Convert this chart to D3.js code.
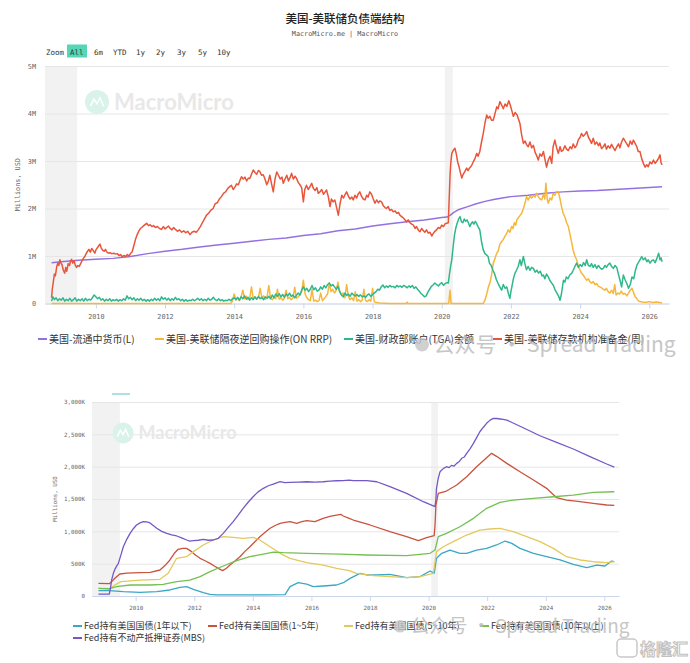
<!DOCTYPE html>
<html>
<head>
<meta charset="utf-8">
<script src="https://cdn.jsdelivr.net/npm/d3@7"></script>
<style>
  body { margin: 0; background: #fff; }
  svg { display: block; font-family: "Noto Sans CJK SC", "Noto Sans", sans-serif; }
  .axis text, .mono { font-family: "DejaVu Sans Mono", "Liberation Mono", monospace; }
</style>
</head>
<body>
<div id="chart"></div>
<script>
// ---- shared ----
const xTicks = [2010, 2012, 2014, 2016, 2018, 2020, 2022, 2024, 2026];
const recessions = [[2007.92, 2009.46], [2020.09, 2020.32]];
const rangeButtons = ["Zoom", "All", "6m", "YTD", "1y", "2y", "3y", "5y", "10y"];

// ---- top chart: Fed liabilities (millions of millions USD) ----
const topYTicks = [0, 1, 2, 3, 4, 5];
const topLabels = ["美国-流通中货币(L)", "美国-美联储隔夜逆回购操作(ON RRP)", "美国-财政部账户(TGA)余额", "美国-美联储存款机构准备金(周)"];

const currency = [[2008.72,0.86],[2009.0,0.88],[2009.5,0.91],[2010.0,0.93],[2010.5,0.95],[2011.0,0.99],[2011.5,1.05],[2012.0,1.10],[2012.5,1.14],[2013.0,1.19],[2013.5,1.23],[2014.0,1.27],[2014.5,1.31],[2015.0,1.35],[2015.5,1.38],[2016.0,1.43],[2016.5,1.47],[2017.0,1.53],[2017.5,1.57],[2018.0,1.63],[2018.5,1.68],[2019.0,1.72],[2019.5,1.76],[2020.0,1.81],[2020.15,1.82],[2020.25,1.86],[2020.35,1.92],[2020.5,1.98],[2020.75,2.04],[2021.0,2.10],[2021.25,2.15],[2021.5,2.19],[2021.75,2.22],[2022.0,2.25],[2022.5,2.28],[2023.0,2.32],[2023.5,2.35],[2024.0,2.37],[2024.5,2.38],[2025.0,2.40],[2025.5,2.42],[2026.0,2.44],[2026.37,2.46]];

const onRrp = [[2008.72,0],[2013.9,0],[2013.95,0.05],[2014.0,0.20],[2014.05,0.08],[2014.1,0.12],[2014.15,0.06],[2014.2,0.14],[2014.25,0.28],[2014.3,0.10],[2014.35,0.15],[2014.4,0.08],[2014.45,0.12],[2014.5,0.35],[2014.55,0.10],[2014.6,0.14],[2014.65,0.09],[2014.7,0.13],[2014.75,0.32],[2014.8,0.11],[2014.85,0.16],[2014.9,0.09],[2014.95,0.14],[2015.0,0.38],[2015.05,0.12],[2015.1,0.08],[2015.15,0.13],[2015.2,0.10],[2015.25,0.30],[2015.3,0.09],[2015.35,0.12],[2015.4,0.07],[2015.45,0.11],[2015.5,0.28],[2015.55,0.10],[2015.6,0.13],[2015.65,0.08],[2015.7,0.12],[2015.75,0.34],[2015.8,0.11],[2015.85,0.14],[2015.9,0.18],[2015.95,0.25],[2016.0,0.49],[2016.05,0.20],[2016.1,0.12],[2016.15,0.08],[2016.2,0.06],[2016.25,0.30],[2016.3,0.05],[2016.35,0.07],[2016.4,0.04],[2016.45,0.06],[2016.5,0.22],[2016.55,0.06],[2016.6,0.10],[2016.65,0.15],[2016.7,0.20],[2016.75,0.43],[2016.8,0.25],[2016.85,0.30],[2016.9,0.22],[2016.95,0.28],[2017.0,0.45],[2017.05,0.25],[2017.1,0.18],[2017.15,0.22],[2017.2,0.12],[2017.25,0.40],[2017.3,0.15],[2017.35,0.08],[2017.4,0.12],[2017.45,0.06],[2017.5,0.25],[2017.55,0.05],[2017.6,0.08],[2017.65,0.04],[2017.7,0.07],[2017.75,0.30],[2017.8,0.06],[2017.85,0.04],[2017.9,0.08],[2017.95,0.05],[2018.0,0.32],[2018.05,0.04],[2018.1,0.02],[2018.2,0.01],[2018.5,0.0],[2018.98,0.0],[2019.0,0.03],[2019.02,0.0],[2020.2,0.0],[2020.24,0.28],[2020.27,0.0],[2021.2,0.0],[2021.25,0.07],[2021.3,0.20],[2021.35,0.35],[2021.39,0.43],[2021.44,0.60],[2021.49,0.85],[2021.54,0.95],[2021.59,1.06],[2021.63,1.10],[2021.68,1.25],[2021.73,1.30],[2021.78,1.35],[2021.83,1.42],[2021.88,1.48],[2021.92,1.55],[2021.97,1.50],[2022.02,1.62],[2022.06,1.58],[2022.1,1.70],[2022.14,1.65],[2022.17,1.76],[2022.21,1.80],[2022.26,1.85],[2022.31,1.90],[2022.36,2.00],[2022.41,2.12],[2022.45,2.25],[2022.5,2.18],[2022.55,2.26],[2022.6,2.22],[2022.65,2.28],[2022.7,2.24],[2022.74,2.32],[2022.79,2.25],[2022.84,2.20],[2022.89,2.18],[2022.94,2.30],[2022.98,2.20],[2023.01,2.53],[2023.05,2.20],[2023.08,2.11],[2023.13,2.22],[2023.18,2.18],[2023.22,2.32],[2023.27,2.28],[2023.32,2.36],[2023.37,2.35],[2023.42,2.20],[2023.46,2.05],[2023.51,1.90],[2023.56,1.82],[2023.61,1.70],[2023.66,1.62],[2023.71,1.45],[2023.76,1.27],[2023.8,1.12],[2023.85,1.00],[2023.9,0.92],[2023.95,0.78],[2024.0,0.70],[2024.04,0.64],[2024.09,0.60],[2024.14,0.54],[2024.19,0.49],[2024.24,0.52],[2024.29,0.45],[2024.33,0.43],[2024.38,0.46],[2024.43,0.40],[2024.48,0.42],[2024.53,0.36],[2024.57,0.35],[2024.62,0.33],[2024.67,0.30],[2024.72,0.28],[2024.76,0.32],[2024.81,0.25],[2024.86,0.22],[2024.91,0.28],[2024.96,0.21],[2025.0,0.40],[2025.04,0.18],[2025.09,0.22],[2025.14,0.20],[2025.19,0.26],[2025.24,0.20],[2025.3,0.21],[2025.35,0.16],[2025.4,0.22],[2025.45,0.28],[2025.5,0.32],[2025.54,0.24],[2025.59,0.15],[2025.63,0.11],[2025.68,0.06],[2025.73,0.04],[2025.8,0.03],[2025.9,0.02],[2026.0,0.04],[2026.1,0.02],[2026.2,0.03],[2026.3,0.02],[2026.37,0.01]];

const tga = [[2008.72,0.05],[2008.76,0.14],[2008.8,0.08],[2008.85,0.12],[2008.9,0.06],[2008.95,0.10],[2009.0,0.07],[2009.05,0.12],[2009.1,0.05],[2009.15,0.09],[2009.2,0.06],[2009.25,0.11],[2009.3,0.05],[2009.35,0.08],[2009.4,0.12],[2009.45,0.05],[2009.5,0.09],[2009.55,0.06],[2009.6,0.10],[2009.65,0.05],[2009.7,0.11],[2009.75,0.06],[2009.8,0.09],[2009.85,0.07],[2009.9,0.12],[2009.95,0.18],[2010.0,0.14],[2010.05,0.10],[2010.1,0.13],[2010.15,0.07],[2010.2,0.10],[2010.25,0.05],[2010.3,0.09],[2010.35,0.06],[2010.4,0.10],[2010.45,0.05],[2010.5,0.08],[2010.55,0.06],[2010.6,0.09],[2010.65,0.05],[2010.7,0.08],[2010.75,0.06],[2010.8,0.10],[2010.85,0.07],[2010.9,0.16],[2010.95,0.10],[2011.0,0.13],[2011.05,0.08],[2011.1,0.12],[2011.15,0.06],[2011.2,0.10],[2011.25,0.07],[2011.3,0.11],[2011.35,0.06],[2011.4,0.09],[2011.45,0.05],[2011.5,0.08],[2011.55,0.05],[2011.6,0.09],[2011.65,0.06],[2011.7,0.11],[2011.75,0.07],[2011.8,0.10],[2011.85,0.06],[2011.9,0.14],[2011.95,0.09],[2012.0,0.12],[2012.05,0.07],[2012.1,0.11],[2012.15,0.06],[2012.2,0.10],[2012.25,0.07],[2012.3,0.13],[2012.35,0.08],[2012.4,0.10],[2012.45,0.06],[2012.5,0.09],[2012.55,0.05],[2012.6,0.08],[2012.65,0.05],[2012.7,0.07],[2012.75,0.06],[2012.8,0.09],[2012.85,0.06],[2012.9,0.08],[2012.95,0.11],[2013.0,0.07],[2013.05,0.10],[2013.1,0.06],[2013.15,0.09],[2013.2,0.06],[2013.25,0.11],[2013.3,0.07],[2013.35,0.09],[2013.4,0.13],[2013.45,0.08],[2013.5,0.06],[2013.55,0.10],[2013.6,0.06],[2013.65,0.08],[2013.7,0.05],[2013.75,0.07],[2013.8,0.06],[2013.85,0.09],[2013.9,0.06],[2013.95,0.10],[2014.0,0.12],[2014.05,0.08],[2014.1,0.13],[2014.15,0.07],[2014.2,0.14],[2014.25,0.10],[2014.3,0.16],[2014.35,0.09],[2014.4,0.13],[2014.45,0.07],[2014.5,0.12],[2014.55,0.08],[2014.6,0.14],[2014.65,0.09],[2014.7,0.15],[2014.75,0.10],[2014.8,0.13],[2014.85,0.08],[2014.9,0.14],[2014.95,0.11],[2015.0,0.15],[2015.05,0.10],[2015.1,0.18],[2015.15,0.12],[2015.2,0.20],[2015.25,0.15],[2015.3,0.21],[2015.35,0.14],[2015.4,0.19],[2015.45,0.13],[2015.5,0.20],[2015.55,0.16],[2015.6,0.22],[2015.65,0.15],[2015.7,0.18],[2015.75,0.12],[2015.8,0.17],[2015.85,0.22],[2015.9,0.18],[2015.95,0.28],[2016.0,0.35],[2016.05,0.28],[2016.1,0.32],[2016.15,0.25],[2016.2,0.30],[2016.25,0.38],[2016.3,0.29],[2016.35,0.33],[2016.4,0.26],[2016.45,0.28],[2016.5,0.35],[2016.55,0.30],[2016.6,0.38],[2016.65,0.33],[2016.7,0.40],[2016.75,0.43],[2016.8,0.37],[2016.85,0.40],[2016.9,0.35],[2016.95,0.30],[2017.0,0.36],[2017.05,0.25],[2017.1,0.18],[2017.15,0.14],[2017.2,0.22],[2017.25,0.17],[2017.3,0.20],[2017.35,0.15],[2017.4,0.22],[2017.45,0.18],[2017.5,0.16],[2017.55,0.19],[2017.6,0.15],[2017.65,0.18],[2017.7,0.14],[2017.75,0.16],[2017.8,0.13],[2017.85,0.18],[2017.9,0.20],[2017.95,0.15],[2018.0,0.19],[2018.05,0.22],[2018.1,0.25],[2018.15,0.30],[2018.2,0.28],[2018.25,0.35],[2018.3,0.39],[2018.35,0.33],[2018.4,0.37],[2018.45,0.34],[2018.5,0.38],[2018.55,0.35],[2018.6,0.36],[2018.65,0.33],[2018.7,0.38],[2018.75,0.35],[2018.8,0.37],[2018.85,0.34],[2018.9,0.38],[2018.95,0.36],[2019.0,0.33],[2019.05,0.37],[2019.1,0.34],[2019.15,0.38],[2019.2,0.32],[2019.25,0.35],[2019.3,0.30],[2019.35,0.26],[2019.4,0.21],[2019.45,0.18],[2019.5,0.14],[2019.55,0.16],[2019.6,0.24],[2019.65,0.30],[2019.7,0.36],[2019.75,0.39],[2019.8,0.43],[2019.85,0.40],[2019.9,0.37],[2019.95,0.41],[2020.0,0.44],[2020.05,0.38],[2020.1,0.42],[2020.15,0.44],[2020.19,0.43],[2020.22,0.60],[2020.26,0.80],[2020.29,0.92],[2020.33,1.20],[2020.37,1.45],[2020.41,1.60],[2020.45,1.70],[2020.49,1.78],[2020.53,1.83],[2020.57,1.72],[2020.61,1.70],[2020.65,1.78],[2020.69,1.73],[2020.73,1.76],[2020.77,1.70],[2020.81,1.62],[2020.85,1.68],[2020.89,1.72],[2020.93,1.67],[2020.97,1.73],[2021.01,1.68],[2021.05,1.62],[2021.1,1.55],[2021.15,1.30],[2021.2,1.13],[2021.25,1.05],[2021.3,1.02],[2021.34,0.99],[2021.38,0.85],[2021.43,0.80],[2021.48,0.70],[2021.53,0.62],[2021.58,0.50],[2021.63,0.42],[2021.68,0.35],[2021.73,0.28],[2021.78,0.40],[2021.83,0.32],[2021.88,0.35],[2021.93,0.20],[2021.97,0.11],[2022.0,0.25],[2022.04,0.40],[2022.08,0.55],[2022.12,0.64],[2022.16,0.70],[2022.21,0.78],[2022.26,0.92],[2022.3,0.80],[2022.36,0.99],[2022.4,0.85],[2022.45,0.71],[2022.5,0.78],[2022.55,0.70],[2022.6,0.76],[2022.65,0.74],[2022.7,0.66],[2022.75,0.70],[2022.8,0.64],[2022.85,0.68],[2022.9,0.58],[2022.94,0.60],[2022.98,0.52],[2023.03,0.62],[2023.08,0.56],[2023.13,0.48],[2023.18,0.43],[2023.23,0.38],[2023.28,0.28],[2023.33,0.22],[2023.38,0.15],[2023.42,0.07],[2023.46,0.20],[2023.5,0.40],[2023.52,0.49],[2023.56,0.45],[2023.6,0.56],[2023.65,0.52],[2023.7,0.60],[2023.76,0.64],[2023.8,0.70],[2023.85,0.78],[2023.9,0.85],[2023.95,0.76],[2024.0,0.82],[2024.05,0.78],[2024.1,0.86],[2024.15,0.80],[2024.19,0.92],[2024.24,0.80],[2024.29,0.78],[2024.33,0.84],[2024.38,0.76],[2024.43,0.82],[2024.48,0.74],[2024.53,0.80],[2024.57,0.76],[2024.62,0.72],[2024.67,0.74],[2024.72,0.80],[2024.76,0.76],[2024.81,0.82],[2024.86,0.85],[2024.91,0.78],[2024.96,0.74],[2025.01,0.80],[2025.06,0.76],[2025.1,0.64],[2025.15,0.50],[2025.2,0.35],[2025.25,0.60],[2025.3,0.50],[2025.35,0.42],[2025.4,0.32],[2025.45,0.40],[2025.5,0.56],[2025.55,0.52],[2025.6,0.70],[2025.65,0.82],[2025.7,0.88],[2025.73,0.92],[2025.78,0.99],[2025.83,0.92],[2025.88,0.96],[2025.93,0.88],[2025.97,0.92],[2026.02,0.85],[2026.07,0.90],[2026.12,0.92],[2026.17,0.86],[2026.22,0.95],[2026.27,1.06],[2026.31,0.92],[2026.34,0.96],[2026.37,0.88]];

const reserves = [[2008.72,0.12],[2008.74,0.30],[2008.77,0.45],[2008.8,0.62],[2008.83,0.58],[2008.87,0.78],[2008.9,0.85],[2008.93,0.80],[2008.96,0.92],[2008.99,0.85],[2009.02,0.82],[2009.06,0.70],[2009.1,0.64],[2009.13,0.76],[2009.16,0.68],[2009.2,0.84],[2009.24,0.80],[2009.27,0.90],[2009.3,0.93],[2009.33,0.85],[2009.37,0.90],[2009.4,0.82],[2009.44,0.76],[2009.48,0.80],[2009.52,0.78],[2009.56,0.84],[2009.6,0.90],[2009.64,0.95],[2009.68,0.99],[2009.72,1.05],[2009.76,1.10],[2009.8,1.14],[2009.84,1.08],[2009.88,1.16],[2009.92,1.12],[2009.97,1.06],[2010.01,1.14],[2010.05,1.18],[2010.09,1.22],[2010.12,1.25],[2010.16,1.16],[2010.2,1.12],[2010.24,1.10],[2010.28,1.14],[2010.31,1.09],[2010.36,1.06],[2010.41,1.07],[2010.46,1.05],[2010.52,1.06],[2010.57,1.04],[2010.62,1.05],[2010.67,1.01],[2010.72,1.03],[2010.76,0.98],[2010.81,1.01],[2010.86,0.99],[2010.91,1.03],[2010.96,1.00],[2011.01,1.06],[2011.05,1.09],[2011.1,1.22],[2011.15,1.36],[2011.19,1.44],[2011.24,1.52],[2011.29,1.58],[2011.33,1.60],[2011.37,1.63],[2011.42,1.66],[2011.47,1.69],[2011.52,1.64],[2011.57,1.66],[2011.62,1.62],[2011.67,1.64],[2011.72,1.60],[2011.78,1.62],[2011.84,1.58],[2011.9,1.56],[2011.95,1.62],[2012.0,1.57],[2012.05,1.60],[2012.1,1.63],[2012.15,1.58],[2012.2,1.55],[2012.25,1.60],[2012.3,1.56],[2012.36,1.52],[2012.42,1.55],[2012.48,1.50],[2012.54,1.53],[2012.6,1.49],[2012.66,1.52],[2012.72,1.45],[2012.78,1.50],[2012.84,1.52],[2012.9,1.50],[2012.96,1.55],[2013.02,1.62],[2013.08,1.70],[2013.14,1.78],[2013.2,1.86],[2013.26,1.90],[2013.32,1.96],[2013.39,2.00],[2013.45,2.10],[2013.51,2.12],[2013.57,2.20],[2013.63,2.25],[2013.69,2.32],[2013.75,2.35],[2013.81,2.42],[2013.87,2.46],[2013.92,2.49],[2013.97,2.40],[2014.02,2.45],[2014.07,2.52],[2014.12,2.50],[2014.17,2.60],[2014.21,2.67],[2014.26,2.62],[2014.31,2.66],[2014.36,2.58],[2014.41,2.64],[2014.45,2.63],[2014.5,2.72],[2014.55,2.81],[2014.6,2.76],[2014.65,2.72],[2014.7,2.80],[2014.74,2.78],[2014.79,2.70],[2014.84,2.71],[2014.89,2.62],[2014.94,2.50],[2014.98,2.56],[2015.03,2.70],[2015.08,2.52],[2015.13,2.35],[2015.18,2.62],[2015.23,2.77],[2015.28,2.70],[2015.33,2.62],[2015.38,2.66],[2015.42,2.53],[2015.47,2.62],[2015.52,2.70],[2015.57,2.58],[2015.62,2.66],[2015.66,2.74],[2015.71,2.62],[2015.76,2.68],[2015.8,2.64],[2015.85,2.55],[2015.9,2.50],[2015.95,2.44],[2016.0,2.14],[2016.04,2.40],[2016.09,2.49],[2016.14,2.40],[2016.19,2.46],[2016.24,2.53],[2016.29,2.42],[2016.34,2.38],[2016.39,2.44],[2016.43,2.32],[2016.48,2.35],[2016.53,2.40],[2016.58,2.30],[2016.62,2.34],[2016.67,2.39],[2016.72,2.25],[2016.77,2.04],[2016.81,2.20],[2016.86,2.14],[2016.91,2.18],[2016.96,2.02],[2017.01,1.86],[2017.06,2.10],[2017.11,2.28],[2017.16,2.22],[2017.21,2.30],[2017.25,2.35],[2017.3,2.26],[2017.35,2.20],[2017.4,2.24],[2017.44,2.18],[2017.49,2.28],[2017.54,2.22],[2017.58,2.30],[2017.63,2.35],[2017.68,2.26],[2017.73,2.20],[2017.78,2.18],[2017.83,2.28],[2017.87,2.24],[2017.92,2.35],[2017.97,2.30],[2018.02,2.20],[2018.07,2.11],[2018.12,2.18],[2018.17,2.12],[2018.21,2.16],[2018.26,2.14],[2018.31,2.06],[2018.36,2.02],[2018.4,2.00],[2018.45,2.04],[2018.5,1.96],[2018.55,1.98],[2018.6,1.93],[2018.65,1.95],[2018.7,1.90],[2018.75,1.92],[2018.79,1.86],[2018.84,1.83],[2018.89,1.80],[2018.94,1.76],[2018.98,1.72],[2019.03,1.76],[2019.08,1.70],[2019.13,1.67],[2019.18,1.65],[2019.23,1.58],[2019.27,1.62],[2019.32,1.55],[2019.37,1.51],[2019.42,1.58],[2019.46,1.54],[2019.51,1.50],[2019.56,1.55],[2019.61,1.48],[2019.66,1.50],[2019.71,1.42],[2019.75,1.47],[2019.8,1.52],[2019.85,1.55],[2019.9,1.60],[2019.95,1.58],[2020.0,1.65],[2020.05,1.62],[2020.1,1.68],[2020.14,1.69],[2020.19,1.70],[2020.21,2.10],[2020.24,2.70],[2020.26,2.95],[2020.29,3.16],[2020.33,3.22],[2020.38,3.27],[2020.42,3.15],[2020.46,2.98],[2020.5,2.88],[2020.54,2.75],[2020.58,2.64],[2020.62,2.72],[2020.67,2.78],[2020.72,2.85],[2020.76,2.80],[2020.81,2.86],[2020.86,2.90],[2020.91,2.98],[2020.96,3.05],[2021.01,3.16],[2021.05,3.10],[2021.1,3.20],[2021.15,3.40],[2021.2,3.58],[2021.25,3.80],[2021.3,3.97],[2021.34,3.90],[2021.39,3.94],[2021.44,3.86],[2021.49,3.86],[2021.54,4.00],[2021.59,4.14],[2021.63,4.10],[2021.68,4.25],[2021.73,4.18],[2021.78,4.10],[2021.83,4.20],[2021.88,4.15],[2021.94,4.27],[2021.98,4.18],[2022.03,4.05],[2022.07,3.94],[2022.12,4.02],[2022.18,3.97],[2022.22,3.88],[2022.26,3.79],[2022.31,3.55],[2022.36,3.37],[2022.41,3.42],[2022.45,3.35],[2022.5,3.30],[2022.55,3.40],[2022.6,3.28],[2022.65,3.33],[2022.7,3.18],[2022.74,3.12],[2022.79,3.02],[2022.84,3.15],[2022.89,3.10],[2022.94,3.20],[2022.98,3.05],[2023.03,2.87],[2023.08,3.02],[2023.13,3.10],[2023.18,2.95],[2023.22,3.30],[2023.27,3.44],[2023.32,3.28],[2023.37,3.16],[2023.42,3.30],[2023.46,3.20],[2023.51,3.23],[2023.56,3.32],[2023.61,3.25],[2023.66,3.22],[2023.71,3.30],[2023.76,3.26],[2023.8,3.36],[2023.85,3.28],[2023.9,3.33],[2023.95,3.45],[2024.0,3.50],[2024.04,3.58],[2024.09,3.52],[2024.14,3.56],[2024.19,3.62],[2024.24,3.50],[2024.28,3.45],[2024.33,3.37],[2024.38,3.48],[2024.43,3.35],[2024.48,3.40],[2024.53,3.32],[2024.57,3.38],[2024.62,3.26],[2024.67,3.30],[2024.72,3.36],[2024.76,3.25],[2024.81,3.32],[2024.86,3.27],[2024.91,3.35],[2024.96,3.28],[2025.01,3.22],[2025.06,3.30],[2025.11,3.36],[2025.15,3.28],[2025.2,3.40],[2025.25,3.48],[2025.3,3.42],[2025.35,3.36],[2025.4,3.30],[2025.45,3.42],[2025.5,3.35],[2025.54,3.44],[2025.59,3.37],[2025.64,3.30],[2025.68,3.20],[2025.73,3.20],[2025.78,3.05],[2025.83,2.95],[2025.88,2.87],[2025.93,2.92],[2025.97,2.88],[2026.02,2.98],[2026.07,2.94],[2026.12,3.02],[2026.17,2.95],[2026.22,3.00],[2026.27,3.06],[2026.31,3.13],[2026.34,2.96],[2026.37,2.92]];

// ---- bottom chart: Fed holdings (thousands of millions USD) ----
const bottomYTicks = [0, 500, 1000, 1500, 2000, 2500, 3000];
const bottomLabels = ["Fed持有美国国债(1年以下)", "Fed持有美国国债(1~5年)", "Fed持有美国国债(5~10年)", "Fed持有美国国债(10年以上)", "Fed持有不动产抵押证券(MBS)"];

const bills = [[2008.73,82],[2009.1,82],[2009.58,67],[2010.15,57],[2010.72,67],[2011.17,93],[2011.51,134],[2011.74,144],[2011.97,103],[2012.31,52],[2012.54,26],[2012.76,16],[2013.5,16],[2014.5,16],[2015.1,20],[2015.27,144],[2015.55,206],[2015.84,185],[2016.06,144],[2016.4,155],[2016.86,170],[2017.09,206],[2017.32,273],[2017.66,351],[2017.89,325],[2018.23,325],[2018.68,335],[2019.25,283],[2019.71,300],[2020.05,387],[2020.19,351],[2020.27,583],[2020.45,660],[2020.73,711],[2021.07,660],[2021.3,660],[2021.64,711],[2021.98,737],[2022.32,789],[2022.61,850],[2022.84,814],[2023.12,737],[2023.58,660],[2024.03,608],[2024.49,557],[2024.94,490],[2025.4,438],[2025.74,479],[2026.02,464],[2026.25,541],[2026.34,530]];

const notes1to5 = [[2008.73,196],[2009.1,191],[2009.2,230],[2009.28,270],[2009.46,340],[2009.7,355],[2010.15,361],[2010.5,365],[2010.83,402],[2011.0,470],[2011.17,557],[2011.32,660],[2011.45,722],[2011.6,738],[2011.74,737],[2011.91,686],[2012.05,630],[2012.2,583],[2012.37,545],[2012.54,505],[2012.7,460],[2012.82,428],[2012.97,392],[2013.1,430],[2013.22,479],[2013.4,545],[2013.56,608],[2013.73,690],[2013.9,762],[2014.07,840],[2014.24,917],[2014.42,985],[2014.59,1047],[2014.76,1090],[2014.93,1124],[2015.1,1140],[2015.27,1149],[2015.5,1124],[2015.67,1150],[2015.84,1164],[2016.12,1149],[2016.4,1201],[2016.63,1230],[2016.86,1252],[2017.0,1263],[2017.09,1237],[2017.29,1201],[2017.43,1175],[2018.0,1098],[2018.68,994],[2019.25,917],[2019.65,855],[2019.93,901],[2020.19,932],[2020.22,1100],[2020.25,1407],[2020.33,1588],[2020.61,1623],[2020.96,1716],[2021.3,1844],[2021.64,1999],[2021.98,2138],[2022.15,2206],[2022.32,2160],[2022.67,2051],[2023.12,1922],[2023.58,1793],[2024.03,1665],[2024.37,1520],[2024.71,1484],[2025.17,1458],[2025.62,1433],[2026.08,1407],[2026.34,1401]];

const notes5to10 = [[2008.73,119],[2009.1,104],[2009.29,170],[2009.5,222],[2010.15,247],[2010.83,258],[2011.11,351],[2011.4,583],[2011.74,608],[2011.97,686],[2012.31,789],[2012.65,866],[2012.99,917],[2013.33,907],[2013.67,892],[2014.01,907],[2014.24,866],[2014.59,762],[2014.93,660],[2015.27,583],[2015.84,515],[2016.4,479],[2016.86,428],[2017.29,392],[2017.54,351],[2018.11,314],[2018.68,300],[2019.25,283],[2019.71,300],[2020.16,351],[2020.27,686],[2020.5,762],[2020.84,840],[2021.3,943],[2021.75,1020],[2022.1,1036],[2022.44,1047],[2022.89,995],[2023.35,917],[2023.8,840],[2024.26,737],[2024.71,608],[2025.17,557],[2025.62,530],[2026.08,515],[2026.34,530]];

const bonds10plus = [[2008.73,119],[2009.1,114],[2009.35,144],[2009.81,170],[2010.49,170],[2010.94,180],[2011.4,222],[2011.85,247],[2012.2,299],[2012.54,376],[2012.99,464],[2013.45,546],[2013.9,608],[2014.36,649],[2014.7,680],[2015.04,670],[2015.84,660],[2016.97,649],[2017.89,634],[2019.25,623],[2020.05,660],[2020.22,711],[2020.33,917],[2020.61,969],[2021.07,1071],[2021.53,1201],[2021.98,1356],[2022.44,1449],[2022.89,1484],[2023.58,1510],[2024.26,1535],[2024.94,1561],[2025.62,1603],[2026.34,1612]];

const mbs = [[2008.73,30],[2009.1,30],[2009.14,120],[2009.18,250],[2009.24,351],[2009.3,420],[2009.36,470],[2009.41,505],[2009.5,640],[2009.58,762],[2009.7,880],[2009.81,969],[2009.92,1040],[2010.03,1098],[2010.15,1130],[2010.26,1149],[2010.38,1145],[2010.49,1130],[2010.6,1090],[2010.72,1047],[2010.89,1000],[2011.06,969],[2011.23,945],[2011.4,928],[2011.57,900],[2011.74,866],[2011.85,850],[2011.97,856],[2012.14,862],[2012.31,877],[2012.48,862],[2012.65,866],[2012.82,892],[2012.99,969],[2013.16,1060],[2013.33,1149],[2013.5,1250],[2013.67,1356],[2013.84,1450],[2014.01,1535],[2014.18,1610],[2014.36,1665],[2014.53,1705],[2014.7,1731],[2014.93,1767],[2015.1,1752],[2015.27,1757],[2015.55,1762],[2015.84,1767],[2016.12,1762],[2016.4,1767],[2016.63,1775],[2016.86,1782],[2017.08,1785],[2017.29,1793],[2017.43,1783],[2017.89,1783],[2018.23,1767],[2018.68,1690],[2019.25,1588],[2019.82,1458],[2020.22,1381],[2020.25,1500],[2020.27,1665],[2020.33,1820],[2020.39,1922],[2020.5,1970],[2020.61,1999],[2020.7,1985],[2020.78,2020],[2020.87,2010],[2020.96,2051],[2021.05,2080],[2021.13,2130],[2021.22,2150],[2021.3,2206],[2021.42,2280],[2021.53,2360],[2021.64,2450],[2021.75,2540],[2021.87,2610],[2021.98,2670],[2022.1,2720],[2022.21,2747],[2022.33,2745],[2022.44,2737],[2022.55,2730],[2022.67,2721],[2023.23,2602],[2023.8,2478],[2024.37,2376],[2024.94,2273],[2025.51,2154],[2026.08,2041],[2026.34,1994]];

class BalanceChart {
  constructor(svg, series, config) {
    this.svg = svg;
    this.series = series;
    this.config = config;
    this.initVis();
  }

  initVis() {
    let vis = this;
    const c = vis.config;

    vis.g = vis.svg.append("g");
    vis.x = d3.scaleLinear().domain(c.xDomain).range([c.left, c.right]);
    vis.y = d3.scaleLinear().domain(c.yDomain).range([c.bottom, c.top]);

    // shaded recession bands
    vis.g
      .selectAll(".band")
      .data(recessions)
      .join("rect")
      .attr("class", "band")
      .attr("x", (d) => vis.x(Math.max(d[0], c.xDomain[0])))
      .attr("width", (d) => vis.x(d[1]) - vis.x(Math.max(d[0], c.xDomain[0])))
      .attr("y", c.top)
      .attr("height", c.bottom - c.top)
      .attr("fill", "#f2f2f2");

    // gridlines and y labels
    vis.g
      .append("g")
      .attr("class", "axis")
      .attr("transform", `translate(${c.left},0)`)
      .call(
        d3.axisLeft(vis.y)
          .tickValues(c.yTicks)
          .tickFormat(c.yFormat)
          .tickSize(-(c.right - c.left))
          .tickPadding(c.yPad)
      )
      .call((g) => g.select(".domain").remove())
      .call((g) => g.selectAll("line").attr("stroke", "#e6e6e6"))
      .call((g) => g.selectAll("text").attr("fill", "#666").attr("font-size", c.tickFont));

    // y title
    vis.g
      .append("text")
      .attr("class", "mono")
      .attr("transform", `translate(${c.yTitleX},${(c.top + c.bottom) / 2}) rotate(-90)`)
      .attr("text-anchor", "middle")
      .attr("font-size", c.tickFont)
      .attr("fill", "#666")
      .text("Millions, USD");

    // x axis
    vis.g
      .append("g")
      .attr("class", "axis")
      .attr("transform", `translate(0,${c.bottom})`)
      .call(
        d3.axisBottom(vis.x)
          .tickValues(xTicks)
          .tickFormat(d3.format("d"))
          .tickSize(5)
          .tickSizeOuter(0)
          .tickPadding(c.xPad)
      )
      .call((g) => g.select(".domain").attr("stroke", "#ccd6eb"))
      .call((g) => g.selectAll("line").attr("stroke", "#ccd6eb"))
      .call((g) => g.selectAll("text").attr("fill", "#666").attr("font-size", c.tickFont));

    // MacroMicro watermark
    const wm = c.watermark;
    vis.g.append("circle")
      .attr("cx", wm.x).attr("cy", wm.y).attr("r", wm.r)
      .attr("fill", "#d9f2ea");
    vis.g.append("path")
      .attr("d", `M${wm.x - wm.r * 0.55},${wm.y + wm.r * 0.35} l${wm.r * 0.3},-${wm.r * 0.6} l${wm.r * 0.25},${wm.r * 0.4} l${wm.r * 0.25},-${wm.r * 0.5} l${wm.r * 0.3},${wm.r * 0.7}`)
      .attr("fill", "none").attr("stroke", "#fff").attr("stroke-width", 1.5);
    vis.g.append("text")
      .attr("x", wm.x + wm.r + 5).attr("y", wm.y + wm.size * 0.36)
      .attr("font-family", "Lato, 'Open Sans', sans-serif")
      .attr("font-weight", 700)
      .attr("font-size", wm.size)
      .attr("fill", "#e8e8e8")
      .text("MacroMicro");

    vis.updateVis();
  }

  updateVis() {
    let vis = this;
    const c = vis.config;

    const line = d3.line()
      .x((d) => vis.x(d[0]))
      .y((d) => vis.y(d[1]));

    vis.g
      .selectAll(".series")
      .data(vis.series)
      .join("path")
      .attr("class", "series")
      .attr("d", (d) => line(d.values))
      .attr("fill", "none")
      .attr("stroke", (d) => d.color)
      .attr("stroke-width", c.lineWidth)
      .attr("stroke-linejoin", "round");

    // legend
    const items = vis.g
      .selectAll(".legend")
      .data(vis.series)
      .join("g")
      .attr("class", "legend")
      .attr("transform", (d, i) => `translate(${c.legendPos[i][0]},${c.legendPos[i][1]})`);

    items.append("line")
      .attr("x1", 0).attr("x2", 9)
      .attr("stroke", (d) => d.color)
      .attr("stroke-width", 2);

    items.append("text")
      .attr("x", 11)
      .attr("y", c.legendFont * 0.36)
      .attr("font-size", c.legendFont)
      .attr("fill", "#333")
      .text((d) => d.label);
  }
}

const svg = d3.select("#chart")
  .append("svg")
  .attr("width", 690)
  .attr("height", 663);

// header
svg.append("text")
  .attr("x", 345).attr("y", 23)
  .attr("text-anchor", "middle")
  .attr("font-size", 11.5)
  .attr("font-weight", 500)
  .attr("fill", "#222")
  .text("美国-美联储负债端结构");

svg.append("text")
  .attr("class", "mono")
  .attr("x", 345).attr("y", 36)
  .attr("text-anchor", "middle")
  .attr("font-size", 6.8)
  .attr("fill", "#555")
  .text("MacroMicro.me | MacroMicro");

const buttonX = [46, 70, 94, 113, 136, 156, 177, 198, 217];
svg.append("rect")
  .attr("x", 67).attr("y", 44.5).attr("width", 20).attr("height", 13)
  .attr("fill", "#55d6b6");
svg.selectAll(".range-btn")
  .data(rangeButtons)
  .join("text")
  .attr("class", "range-btn mono")
  .attr("x", (d, i) => buttonX[i])
  .attr("y", 54.5)
  .attr("font-size", 7.5)
  .attr("fill", "#333")
  .text((d) => d);

new BalanceChart(svg, [
  { label: topLabels[0], color: "#9471e0", values: currency },
  { label: topLabels[1], color: "#f6b73c", values: onRrp },
  { label: topLabels[2], color: "#2fb88b", values: tga },
  { label: topLabels[3], color: "#e8553b", values: reserves },
], {
  xDomain: [2008.53, 2026.57],
  yDomain: [0, 5],
  left: 45, right: 669, top: 66, bottom: 303.5,
  yTicks: topYTicks,
  yFormat: (d) => (d === 0 ? "0" : d + "M"),
  yPad: 9, xPad: 6,
  yTitleX: 20,
  tickFont: 6.8,
  lineWidth: 1.5,
  legendPos: [[38, 339], [155, 339], [344, 339], [493, 339]],
  legendFont: 10,
  watermark: { x: 97, y: 102, r: 12, size: 22 },
});

const bottom = new BalanceChart(svg, [
  { label: bottomLabels[0], color: "#3aa8c3", values: bills },
  { label: bottomLabels[1], color: "#c9533d", values: notes1to5 },
  { label: bottomLabels[2], color: "#e2c95c", values: notes5to10 },
  { label: bottomLabels[3], color: "#74c052", values: bonds10plus },
  { label: bottomLabels[4], color: "#7558c8", values: mbs },
], {
  xDomain: [2008.51, 2026.5],
  yDomain: [0, 3000],
  left: 92, right: 619, top: 402, bottom: 596,
  yTicks: bottomYTicks,
  yFormat: (d) => (d === 0 ? "0" : d3.format(",")(d) + "K"),
  yPad: 7, xPad: 5,
  yTitleX: 57,
  tickFont: 5.8,
  lineWidth: 1.3,
  legendPos: [[73, 626], [208, 626], [344, 626], [480, 626], [73, 638]],
  legendFont: 9,
  watermark: { x: 123, y: 433, r: 10.5, size: 18 },
});

// clipped legend symbol peeking above the lower chart
svg.append("line")
  .attr("x1", 112).attr("x2", 130).attr("y1", 394).attr("y2", 394)
  .attr("stroke", "#8fd6dc").attr("stroke-width", 1.5);

// repost watermarks
const repost = [
  { x: 422, y: 352, size: 21 },
  { x: 400, y: 633, size: 19 },
];
repost.forEach((w) => {
  svg.append("circle")
    .attr("cx", w.x).attr("cy", w.y - w.size * 0.35).attr("r", w.size * 0.33)
    .attr("fill", "#c4c4c4").attr("opacity", 0.8);
  svg.append("text")
    .attr("x", w.x + w.size * 0.55).attr("y", w.y)
    .attr("font-size", w.size)
    .attr("fill", "#bdbdbd")
    .attr("opacity", 0.85)
    .text("公众号 · Spread Trading");
});

// corner logo
svg.append("rect")
  .attr("x", 617).attr("y", 639).attr("width", 20).attr("height", 18).attr("rx", 4)
  .attr("fill", "none").attr("stroke", "#c8c8c8").attr("stroke-width", 1.5);
svg.append("text")
  .attr("x", 640).attr("y", 655)
  .attr("font-size", 16)
  .attr("font-weight", 700)
  .attr("fill", "#fff")
  .attr("stroke", "#c0c0c0")
  .attr("stroke-width", 1)
  .text("格隆汇");
</script>
</body>
</html>
